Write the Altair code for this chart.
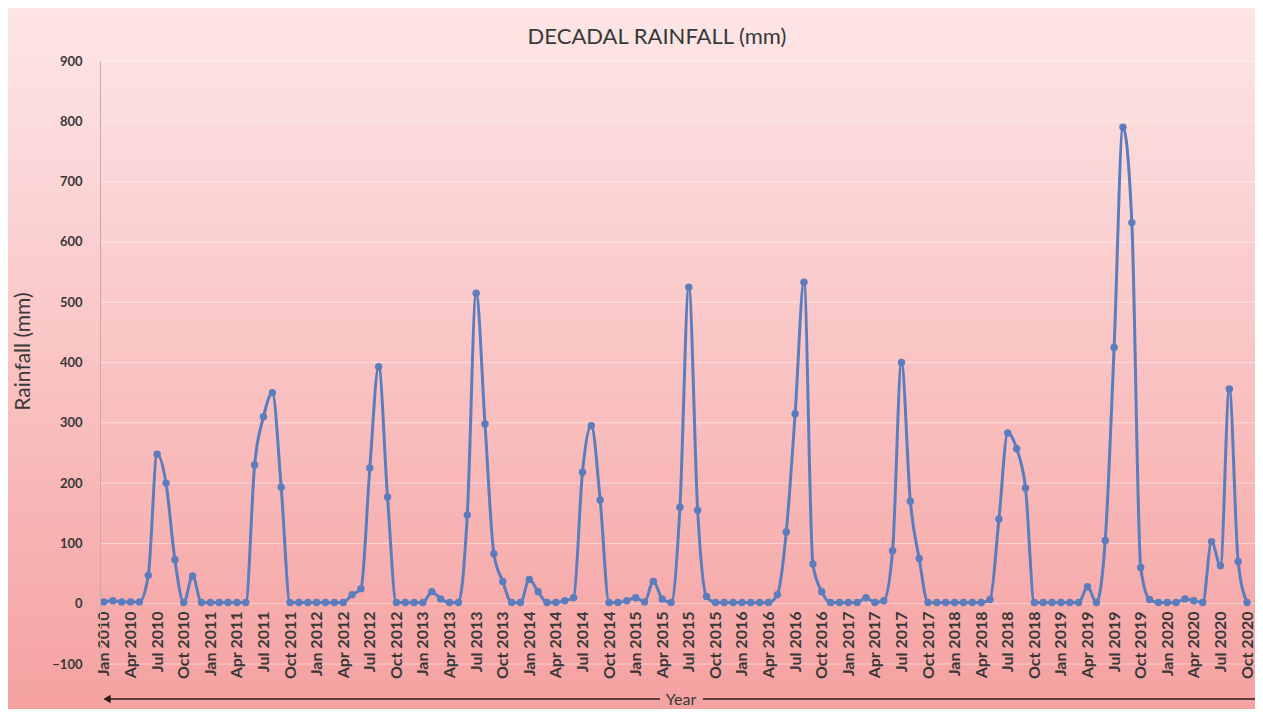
import altair as alt
import pandas as pd

# Monthly rainfall (mm), Jan 2010 .. Oct 2020
r2010 = [3, 5, 3, 3, 3, 47, 248, 200, 73, 2, 46, 2]
r2011 = [2, 2, 2, 2, 2, 230, 310, 350, 193, 2, 2, 2]
r2012 = [2, 2, 2, 2, 15, 25, 225, 393, 177, 2, 2, 2]
r2013 = [2, 20, 8, 2, 2, 147, 515, 298, 83, 37, 2, 2]
r2014 = [40, 20, 2, 2, 5, 10, 218, 295, 172, 2, 2, 5]
r2015 = [10, 3, 37, 8, 2, 160, 525, 155, 12, 2, 2, 2]
r2016 = [2, 2, 2, 2, 15, 119, 315, 533, 66, 20, 2, 2]
r2017 = [2, 2, 10, 2, 5, 88, 400, 170, 75, 2, 2, 2]
r2018 = [2, 2, 2, 2, 7, 140, 283, 257, 192, 2, 2, 2]
r2019 = [2, 2, 2, 28, 2, 105, 425, 790, 632, 60, 7, 2]
r2020 = [2, 2, 8, 5, 2, 103, 63, 356, 70, 2]

years = [2010, 2011, 2012, 2013, 2014, 2015, 2016, 2017, 2018, 2019, 2020]
month_names = ["Jan", "Feb", "Mar", "Apr", "May", "Jun",
               "Jul", "Aug", "Sep", "Oct", "Nov", "Dec"]

tick_labels = [
    "Jan 2010", "Apr 2010", "Jul 2010", "Oct 2010",
    "Jan 2011", "Apr 2011", "Jul 2011", "Oct 2011",
    "Jan 2012", "Apr 2012", "Jul 2012", "Oct 2012",
    "Jan 2013", "Apr 2013", "Jul 2013", "Oct 2013",
    "Jan 2014", "Apr 2014", "Jul 2014", "Oct 2014",
    "Jan 2015", "Apr 2015", "Jul 2015", "Oct 2015",
    "Jan 2016", "Apr 2016", "Jul 2016", "Oct 2016",
    "Jan 2017", "Apr 2017", "Jul 2017", "Oct 2017",
    "Jan 2018", "Apr 2018", "Jul 2018", "Oct 2018",
    "Jan 2019", "Apr 2019", "Jul 2019", "Oct 2019",
    "Jan 2020", "Apr 2020", "Jul 2020", "Oct 2020",
]
y_ticks = [-100, 0, 100, 200, 300, 400, 500, 600, 700, 800, 900]

rain_by_year = [r2010, r2011, r2012, r2013, r2014, r2015,
                r2016, r2017, r2018, r2019, r2020]
rows = []
for y, vals in zip(years, rain_by_year):
    for m, v in enumerate(vals):
        rows.append({"idx": len(rows), "month": f"{month_names[m]} {y}", "rain": v})
df = pd.DataFrame(rows)
tick_idx = [i * 3 for i in range(len(tick_labels))]

W, H = 1155, 603
PL, PT, PR, PB = 92, 53, 0, 45
FONT = "Lato"
TXT = "#383838"
BLUE = "#5b7dbe"

label_arr = "[" + ",".join(f"'{t}'" for t in tick_labels) + "]"

xscale = alt.Scale(domain=[-0.45, 129.9], nice=False, zero=False)
yscale = alt.Scale(domain=[-100, 900], nice=False, zero=False)

xaxis = alt.Axis(values=tick_idx, labelExpr=f"{label_arr}[round(datum.value/3)]",
                 labelAngle=270, offset=-60, domain=False, ticks=False, tickSize=0,
                 grid=False, labelFont=FONT, labelFontSize=16, labelFontWeight="bold",
                 labelColor=TXT, labelPadding=7, title=None, zindex=1,
                 labelOverlap=False, labelFlush=False)
yaxis = alt.Axis(values=y_ticks, title="Rainfall (mm)", titleFont=FONT, titleFontSize=21,
                 titleFontWeight="normal", titleColor=TXT, titleX=-67, titleY=290,
                 labelFont=FONT, labelFontSize=13, labelFontWeight="bold", labelColor=TXT,
                 labelPadding=18, ticks=False, tickSize=0, grid=False,
                 domainColor="#caa9a9", domainWidth=1, zindex=1)

one = pd.DataFrame({"k": [0]})

bg = alt.Chart(one).mark_rect(
    fill=alt.Gradient(
        gradient="linear",
        stops=[alt.GradientStop(offset=0, color="#fde6e6"),
               alt.GradientStop(offset=0.5, color="#fac4c4"),
               alt.GradientStop(offset=1, color="#f5a1a1")],
        x1=0, x2=0, y1=0, y2=1),
    strokeWidth=0,
).encode(x=alt.value(-PL), x2=alt.value(W + PR), y=alt.value(-PT), y2=alt.value(H + PB))

grid = alt.Chart(pd.DataFrame({"rain": y_ticks})).mark_rule(
    color="white", opacity=0.45, strokeWidth=1
).encode(y=alt.Y("rain:Q", scale=yscale, axis=yaxis))

line = alt.Chart(df).mark_line(
    interpolate="monotone", color=BLUE, strokeWidth=3
).encode(
    x=alt.X("idx:Q", scale=xscale, axis=xaxis),
    y=alt.Y("rain:Q", scale=yscale, axis=yaxis),
)

pts = alt.Chart(df).mark_point(
    filled=True, color=BLUE, size=55, opacity=1
).encode(
    x=alt.X("idx:Q", scale=xscale, axis=xaxis),
    y=alt.Y("rain:Q", scale=yscale, axis=yaxis),
    tooltip=["month:N", "rain:Q"],
)

title_txt = alt.Chart(one).mark_text(
    text="DECADAL RAINFALL (mm)", font=FONT, fontSize=22, color=TXT,
    align="center", baseline="middle"
).encode(x=alt.value(557), y=alt.value(-24))

AY = 638
arrow_l = alt.Chart(one).mark_rule(color="#2e1a1a", strokeWidth=1.5).encode(
    x=alt.value(8), x2=alt.value(560), y=alt.value(AY))
arrow_r = alt.Chart(one).mark_rule(color="#2e1a1a", strokeWidth=1.5).encode(
    x=alt.value(603), x2=alt.value(1162), y=alt.value(AY))
head = alt.Chart(one).mark_point(
    shape="triangle-left", filled=True, color="#2e1a1a", size=70, opacity=1
).encode(x=alt.value(7), y=alt.value(AY))
year_txt = alt.Chart(one).mark_text(
    text="Year", font=FONT, fontSize=16, color=TXT, align="center", baseline="middle"
).encode(x=alt.value(581), y=alt.value(AY + 1))

chart = alt.layer(bg, grid, line, pts, title_txt, arrow_l, arrow_r, head, year_txt).properties(
    width=W, height=H,
    padding={"left": PL, "top": PT, "right": PR, "bottom": PB},
    autosize=alt.AutoSizeParams(type="none"),
).configure_view(stroke=None).configure(background="white")

chart.save("out.html", embed_options={"renderer": "svg", "actions": False})
